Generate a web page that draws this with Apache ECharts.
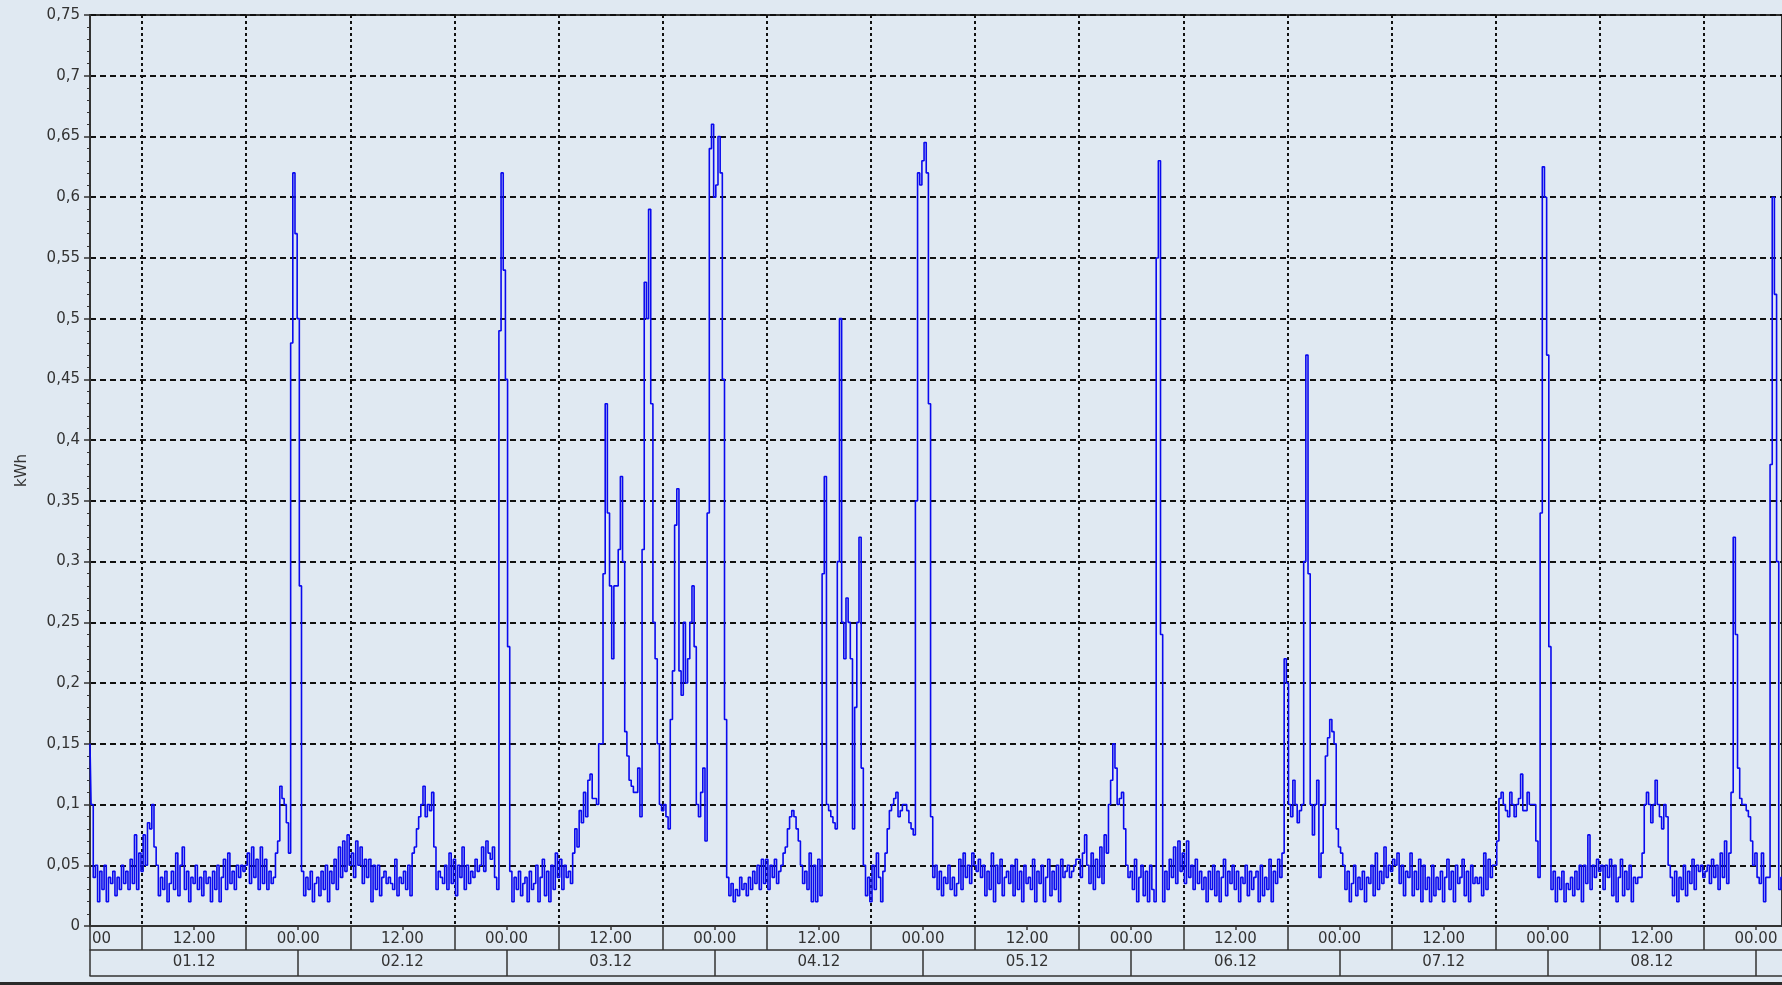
<!DOCTYPE html>
<html>
<head>
<meta charset="utf-8">
<script src="https://cdn.jsdelivr.net/npm/echarts@6/dist/echarts.min.js"></script>
<style>
html,body{margin:0;padding:0;background:#e0e9f2;overflow:hidden}
#chart{width:1782px;height:985px}
</style>
</head>
<body>
<div id="chart"></div>
<script>
// 15-minute energy readings (kWh), one array per day starting at 00:00
const day01 = [0.15,0.1,0.04,0.05,0.02,0.045,0.03,0.05,0.02,0.04,0.035,0.045,0.025,0.04,0.03,0.05,
  0.035,0.045,0.03,0.055,0.035,0.075,0.03,0.06,0.045,0.075,0.05,0.085,0.08,0.1,0.065,0.05,
  0.025,0.04,0.03,0.045,0.02,0.035,0.045,0.03,0.06,0.025,0.05,0.065,0.03,0.045,0.02,0.04,
  0.035,0.05,0.03,0.04,0.025,0.045,0.035,0.04,0.02,0.045,0.03,0.05,0.02,0.04,0.055,0.03,
  0.06,0.035,0.045,0.03,0.05,0.04,0.05,0.045,0.05,0.06,0.035,0.065,0.04,0.055,0.03,0.065,
  0.035,0.055,0.03,0.045,0.035,0.04,0.06,0.07,0.115,0.105,0.1,0.085,0.06,0.48,0.62,0.57];
const day02 = [0.5,0.28,0.045,0.025,0.04,0.03,0.045,0.02,0.035,0.04,0.025,0.045,0.03,0.05,0.02,0.045,
  0.035,0.055,0.03,0.065,0.04,0.07,0.045,0.075,0.05,0.06,0.04,0.07,0.05,0.065,0.035,0.055,
  0.04,0.055,0.02,0.05,0.03,0.05,0.025,0.04,0.045,0.035,0.04,0.035,0.03,0.055,0.025,0.04,
  0.035,0.045,0.03,0.05,0.025,0.06,0.065,0.08,0.09,0.1,0.115,0.09,0.1,0.095,0.11,0.065,
  0.03,0.045,0.04,0.035,0.05,0.03,0.06,0.035,0.055,0.025,0.05,0.04,0.065,0.03,0.05,0.035,
  0.045,0.04,0.055,0.045,0.05,0.065,0.045,0.07,0.06,0.055,0.065,0.04,0.03,0.49,0.62,0.54];
const day03 = [0.45,0.23,0.045,0.02,0.04,0.03,0.045,0.025,0.035,0.04,0.02,0.045,0.03,0.035,0.05,0.02,
  0.04,0.055,0.025,0.045,0.02,0.05,0.03,0.06,0.04,0.055,0.03,0.05,0.04,0.045,0.035,0.06,
  0.08,0.065,0.095,0.085,0.11,0.09,0.12,0.125,0.105,0.105,0.1,0.15,0.15,0.29,0.43,0.34,
  0.28,0.22,0.28,0.28,0.31,0.37,0.3,0.16,0.14,0.12,0.115,0.11,0.11,0.13,0.09,0.31,
  0.53,0.5,0.59,0.43,0.25,0.22,0.15,0.1,0.095,0.1,0.09,0.08,0.17,0.21,0.33,0.36,
  0.21,0.19,0.25,0.2,0.22,0.25,0.28,0.23,0.1,0.09,0.11,0.13,0.07,0.34,0.64,0.66];
const day04 = [0.6,0.61,0.65,0.62,0.45,0.17,0.04,0.025,0.035,0.02,0.03,0.025,0.04,0.03,0.035,0.025,
  0.04,0.03,0.045,0.035,0.05,0.03,0.055,0.035,0.055,0.03,0.05,0.04,0.055,0.035,0.045,0.05,
  0.06,0.065,0.08,0.09,0.095,0.09,0.08,0.07,0.05,0.035,0.045,0.03,0.06,0.02,0.05,0.02,
  0.055,0.025,0.29,0.37,0.1,0.095,0.09,0.085,0.08,0.3,0.5,0.25,0.22,0.27,0.25,0.22,
  0.08,0.18,0.25,0.32,0.13,0.05,0.025,0.04,0.02,0.05,0.03,0.06,0.04,0.02,0.045,0.06,
  0.08,0.095,0.1,0.105,0.11,0.09,0.095,0.1,0.1,0.095,0.085,0.08,0.075,0.35,0.62,0.61];
const day05 = [0.63,0.645,0.62,0.43,0.09,0.04,0.05,0.03,0.045,0.025,0.04,0.035,0.05,0.03,0.04,0.025,
  0.035,0.055,0.03,0.06,0.04,0.05,0.035,0.06,0.05,0.045,0.055,0.04,0.05,0.025,0.045,0.03,
  0.06,0.02,0.05,0.035,0.055,0.025,0.04,0.045,0.035,0.05,0.025,0.055,0.03,0.045,0.02,0.05,
  0.035,0.04,0.03,0.055,0.02,0.045,0.035,0.05,0.02,0.04,0.055,0.025,0.045,0.03,0.05,0.02,
  0.055,0.04,0.045,0.05,0.04,0.045,0.05,0.055,0.055,0.04,0.06,0.075,0.05,0.035,0.06,0.03,
  0.055,0.04,0.065,0.035,0.075,0.06,0.1,0.12,0.15,0.13,0.1,0.105,0.11,0.08,0.05,0.04];
const day06 = [0.045,0.03,0.055,0.02,0.04,0.05,0.025,0.045,0.02,0.05,0.03,0.02,0.55,0.63,0.24,0.02,
  0.045,0.03,0.055,0.04,0.065,0.035,0.07,0.045,0.06,0.035,0.07,0.04,0.05,0.03,0.055,0.035,
  0.045,0.03,0.04,0.02,0.045,0.03,0.05,0.025,0.045,0.02,0.04,0.055,0.025,0.045,0.035,0.05,
  0.03,0.045,0.02,0.04,0.035,0.05,0.025,0.045,0.03,0.04,0.045,0.02,0.05,0.025,0.04,0.03,
  0.055,0.02,0.045,0.035,0.055,0.04,0.06,0.22,0.2,0.1,0.09,0.12,0.1,0.085,0.095,0.1,
  0.3,0.47,0.29,0.1,0.075,0.1,0.12,0.04,0.06,0.1,0.14,0.155,0.17,0.16,0.15,0.08];
const day07 = [0.065,0.06,0.05,0.03,0.045,0.02,0.035,0.05,0.025,0.04,0.03,0.045,0.02,0.04,0.035,0.05,
  0.025,0.06,0.03,0.045,0.035,0.065,0.04,0.05,0.045,0.055,0.05,0.06,0.035,0.05,0.025,0.045,
  0.04,0.06,0.025,0.045,0.03,0.055,0.02,0.05,0.03,0.04,0.02,0.05,0.025,0.04,0.03,0.045,
  0.02,0.04,0.055,0.03,0.045,0.02,0.05,0.035,0.04,0.055,0.025,0.045,0.02,0.05,0.035,0.04,
  0.035,0.04,0.025,0.06,0.03,0.055,0.04,0.05,0.05,0.07,0.105,0.11,0.1,0.095,0.09,0.11,
  0.1,0.09,0.1,0.105,0.125,0.095,0.095,0.11,0.1,0.1,0.1,0.07,0.04,0.34,0.625,0.6];
const day08 = [0.47,0.23,0.03,0.045,0.02,0.04,0.03,0.045,0.02,0.035,0.03,0.04,0.025,0.045,0.03,0.05,
  0.02,0.05,0.035,0.075,0.03,0.05,0.04,0.055,0.045,0.05,0.03,0.05,0.04,0.055,0.025,0.05,
  0.02,0.04,0.055,0.025,0.045,0.03,0.05,0.02,0.04,0.035,0.04,0.04,0.06,0.1,0.11,0.1,
  0.085,0.1,0.12,0.1,0.09,0.08,0.1,0.09,0.05,0.04,0.025,0.045,0.02,0.04,0.03,0.05,
  0.025,0.045,0.035,0.055,0.03,0.05,0.045,0.05,0.04,0.045,0.05,0.035,0.055,0.04,0.05,0.03,
  0.06,0.04,0.07,0.035,0.06,0.11,0.32,0.24,0.13,0.105,0.1,0.1,0.095,0.09,0.07,0.05];
const day09 = [0.06,0.04,0.035,0.06,0.02,0.04,0.04,0.38,0.6,0.52,0.3,0.03,0.04];

const days = [day01, day02, day03, day04, day05, day06, day07, day08, day09];
const dayLabels = ['01.12','02.12','03.12','04.12','05.12','06.12','07.12','08.12'];
const timeLabels = ['00.00','12.00'];
const readingStepHours = 0.25;   // one reading every 15 minutes
const axisEndHours = 195;        // visible range: 01.12 00:00 ... 09.12 03:00

// tick positions in hours since 01.12 00:00
const halfDayHours = [];          // 00:00 and 12:00 label centres
for (let h = 0; h <= axisEndHours; h += 12) halfDayHours.push(h);
const cellEdgeHours = [0];        // 06:00 / 18:00 cell boundaries
for (let h = 6; h <= axisEndHours; h += 12) cellEdgeHours.push(h);
const dayEdgeHours = [];          // midnight boundaries
for (let h = 0; h <= axisEndHours; h += 24) dayEdgeHours.push(h);
const dayMidHours = dayLabels.map((_, i) => i * 24 + 12);

const values = [].concat(...days);
const seriesData = values.map((v, i) => [i * readingStepHours, v]);

const font = 'DejaVu Sans';
const ink = '#333333';

const chart = echarts.init(document.getElementById('chart'), null, {renderer: 'canvas'});
chart.setOption({
  animation: false,
  backgroundColor: '#e0e9f2',
  grid: {
    left: 90, top: 15, right: 0, bottom: 59,
    show: true, backgroundColor: '#e0e9f2', borderColor: '#333', borderWidth: 2
  },
  xAxis: [
    { // 12-hour row: cell boundaries, grid lines, time labels
      type: 'value', min: 0, max: axisEndHours, position: 'bottom',
      axisLine: {show: true, lineStyle: {color: ink, width: 2}},
      axisTick: {show: true, customValues: cellEdgeHours, length: 24, lineStyle: {color: ink, width: 1.5}},
      splitLine: {show: true, lineStyle: {color: '#111', type: [3, 3], width: 2}},
      axisLabel: {
        customValues: halfDayHours.filter(h => h > 0),
        formatter: v => timeLabels[(v / 12) % 2],
        margin: 6, color: ink, fontSize: 15, fontFamily: font
      }
    },
    { // day row
      type: 'value', min: 0, max: axisEndHours, position: 'bottom', offset: 24,
      axisLine: {show: true, lineStyle: {color: ink, width: 1.5}},
      axisTick: {show: true, customValues: dayEdgeHours, length: 26, lineStyle: {color: ink, width: 1.5}},
      splitLine: {show: false},
      axisLabel: {
        customValues: dayMidHours,
        formatter: v => dayLabels[(v - 12) / 24],
        margin: 5, color: ink, fontSize: 15, fontFamily: font
      }
    },
    { // bottom edge of the day row
      type: 'value', min: 0, max: axisEndHours, position: 'bottom', offset: 50,
      axisLine: {show: true, lineStyle: {color: ink, width: 1.5}},
      axisTick: {show: false}, splitLine: {show: false}, axisLabel: {show: false}
    },
    { // small marks at 00:00 / 12:00 and the clipped first label
      type: 'value', min: 0, max: axisEndHours, position: 'bottom',
      axisLine: {show: false},
      axisTick: {show: true, customValues: halfDayHours, length: 4, lineStyle: {color: ink, width: 1.5}},
      splitLine: {show: false},
      axisLabel: {
        customValues: [0], formatter: () => timeLabels[0].slice(3), align: 'left',
        padding: [0, 0, 0, 2], margin: 6, color: ink, fontSize: 15, fontFamily: font
      }
    }
  ],
  yAxis: {
    type: 'value', min: 0, max: 0.75, interval: 0.05,
    name: 'kWh', nameLocation: 'middle', nameGap: 60,
    nameTextStyle: {color: ink, fontSize: 15, fontFamily: font},
    axisLine: {show: true, lineStyle: {color: ink, width: 2}},
    axisTick: {show: true, length: 6, lineStyle: {color: ink, width: 1.5}},
    minorTick: {show: true, splitNumber: 5, length: 3, lineStyle: {color: ink, width: 1}},
    splitLine: {show: true, lineStyle: {color: '#111', type: [6, 4], width: 2}},
    axisLabel: {
      margin: 10, color: ink, fontSize: 15, fontFamily: font,
      formatter: v => String(parseFloat(v.toFixed(2))).replace('.', ',')
    }
  },
  graphic: [{
    type: 'rect', left: 0, bottom: 0, shape: {width: 1782, height: 3},
    style: {fill: '#2a2a2a'}, silent: true
  }],
  series: [{
    type: 'line', xAxisIndex: 0, data: seriesData,
    step: 'middle', showSymbol: false, symbol: 'none',
    lineStyle: {color: '#0a0aee', width: 1.6},
    clip: true
  }]
});
</script>
</body>
</html>
